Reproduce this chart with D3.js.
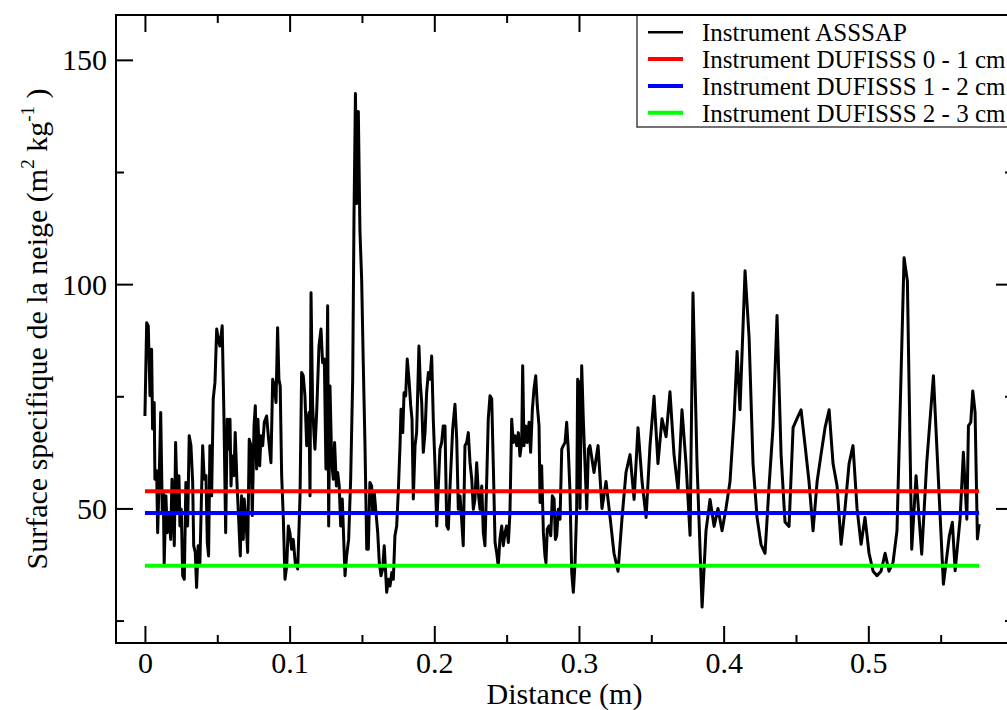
<!DOCTYPE html>
<html>
<head>
<meta charset="utf-8">
<script src="https://cdn.jsdelivr.net/npm/d3@7"></script>
<style>
  body { margin: 0; background: #fff; }
  text { font-family: "Liberation Serif", "Times New Roman", serif; fill: #000; }
</style>
</head>
<body>
<script>
// distance (m) and surface specifique (m2/kg), ASSSAP profile
const distance = [
  0.0000,0.0012,0.0023,0.0035,0.0046,0.0053,0.0064,0.0069,0.0081,0.0088,
  0.0099,0.0109,0.0120,0.0127,0.0133,0.0145,0.0154,0.0166,0.0178,0.0187,
  0.0196,0.0203,0.0212,0.0219,0.0226,0.0235,0.0242,0.0251,0.0261,0.0272,
  0.0283,0.0295,0.0306,0.0318,0.0330,0.0337,0.0348,0.0357,0.0368,0.0380,
  0.0399,0.0410,0.0422,0.0431,0.0440,0.0449,0.0461,0.0472,0.0484,0.0496,
  0.0507,0.0518,0.0534,0.0546,0.0558,0.0569,0.0576,0.0588,0.0595,0.0604,
  0.0615,0.0624,0.0636,0.0648,0.0659,0.0668,0.0680,0.0686,0.0698,0.0710,
  0.0721,0.0733,0.0742,0.0754,0.0763,0.0772,0.0781,0.0793,0.0802,0.0814,
  0.0825,0.0841,0.0855,0.0871,0.0883,0.0894,0.0906,0.0917,0.0926,0.0935,
  0.0945,0.0956,0.0968,0.0980,0.0991,0.1002,0.1014,0.1025,0.1039,0.1056,
  0.1072,0.1083,0.1094,0.1106,0.1118,0.1125,0.1134,0.1141,0.1148,0.1159,
  0.1168,0.1175,0.1187,0.1203,0.1217,0.1228,0.1240,0.1251,0.1263,0.1270,
  0.1279,0.1291,0.1302,0.1311,0.1323,0.1332,0.1343,0.1353,0.1364,0.1383,
  0.1394,0.1408,0.1422,0.1436,0.1445,0.1455,0.1464,0.1475,0.1486,0.1498,
  0.1509,0.1521,0.1533,0.1544,0.1555,0.1567,0.1574,0.1585,0.1597,0.1609,
  0.1620,0.1632,0.1643,0.1654,0.1671,0.1682,0.1694,0.1706,0.1717,0.1728,
  0.1740,0.1751,0.1763,0.1770,0.1782,0.1791,0.1802,0.1813,0.1825,0.1837,
  0.1846,0.1855,0.1867,0.1878,0.1894,0.1903,0.1913,0.1924,0.1936,0.1947,
  0.1959,0.1970,0.1982,0.1993,0.2005,0.2017,0.2028,0.2039,0.2051,0.2062,
  0.2074,0.2086,0.2097,0.2109,0.2127,0.2143,0.2155,0.2166,0.2178,0.2189,
  0.2200,0.2212,0.2224,0.2235,0.2247,0.2259,0.2270,0.2281,0.2293,0.2304,
  0.2316,0.2328,0.2339,0.2350,0.2362,0.2373,0.2385,0.2397,0.2408,0.2420,
  0.2431,0.2442,0.2454,0.2466,0.2477,0.2489,0.2500,0.2512,0.2523,0.2535,
  0.2546,0.2558,0.2570,0.2581,0.2592,0.2604,0.2611,0.2620,0.2632,0.2643,
  0.2655,0.2666,0.2678,0.2689,0.2701,0.2712,0.2724,0.2731,0.2742,0.2754,
  0.2765,0.2772,0.2781,0.2793,0.2805,0.2816,0.2828,0.2837,0.2846,0.2857,
  0.2869,0.2881,0.2892,0.2904,0.2915,0.2926,0.2938,0.2950,0.2961,0.2973,
  0.2984,0.2991,0.3000,0.3007,0.3019,0.3030,0.3042,0.3054,0.3065,
  0.3076,0.3104,0.3132,0.3159,0.3187,0.3215,0.3242,0.3270,0.3298,0.3325,
  0.3353,0.3381,0.3408,0.3436,0.3464,0.3491,0.3519,0.3546,0.3574,0.3602,
  0.3629,0.3657,0.3685,0.3712,0.3740,0.3768,0.3788,0.3816,0.3851,0.3878,
  0.3906,0.3934,0.3961,0.3989,0.4016,0.4044,0.4072,0.4093,0.4113,0.4148,
  0.4176,0.4203,0.4231,0.4258,0.4286,0.4314,0.4341,0.4369,0.4397,0.4424,
  0.4452,0.4480,0.4507,0.4535,0.4563,0.4590,0.4618,0.4646,0.4673,0.4701,
  0.4729,0.4756,0.4784,0.4812,0.4839,0.4867,0.4894,0.4922,0.4950,0.4977,
  0.5005,0.5033,0.5060,0.5088,0.5116,0.5143,0.5171,0.5198,
  0.5219,0.5247,0.5270,0.5300,0.5330,0.5369,0.5404,0.5450,0.5519,0.5560,
  0.5581,0.5600,0.5634,0.5657,0.5681,0.5692,0.5708,0.5722,0.5738,0.5754,0.5766
];
const ssaAsssap = [
  70.6,91.4,90.7,75.1,85.5,67.7,73.6,56.5,58.4,44.6,
  57.3,71.4,49.1,53.6,37.6,52.8,44.6,49.1,43.1,56.5,
  49.1,41.7,64.7,56.5,49.1,57.3,46.1,49.8,35.0,34.2,
  55.8,46.1,66.2,64.0,55.8,41.7,40.2,32.4,41.7,37.9,
  64.0,56.5,57.3,42.4,39.4,64.0,52.8,74.4,78.1,90.0,
  87.7,86.2,90.7,70.6,44.6,69.9,63.2,69.9,55.0,61.7,
  57.3,66.9,55.8,47.6,39.4,52.8,43.1,52.1,47.6,40.2,
  65.4,64.0,48.4,68.4,72.9,58.8,69.9,59.5,66.2,64.0,
  69.2,70.6,65.4,60.2,78.8,77.3,73.6,90.3,78.8,77.3,
  57.3,48.4,34.2,37.2,46.1,44.6,40.9,43.1,37.9,36.5,
  52.8,80.3,79.6,75.1,64.0,69.2,71.4,52.8,98.1,72.9,
  66.9,63.2,71.4,86.2,90.0,82.5,83.3,58.8,95.2,46.1,
  77.3,60.2,56.5,64.7,55.0,58.0,55.0,46.1,52.1,35.0,
  39.4,43.1,56.5,78.8,115,142.5,118,138.5,112,101,
  82.5,64.0,40.9,40.9,55.8,55.0,49.1,53.6,49.1,44.6,
  37.9,35.0,36.5,41.7,31.3,34.2,32.7,35.7,34.2,43.9,
  46.1,53.6,64.0,72.1,66.9,75.8,75.1,83.3,78.8,72.9,
  69.9,52.1,64.0,66.9,86.2,78.1,73.6,62.5,66.9,75.8,
  80.3,78.8,84.0,69.9,59.5,46.1,55.0,63.2,64.7,68.4,
  68.4,46.1,45.4,55.0,67.7,73.2,65.4,49.8,52.8,47.6,
  41.7,64.0,64.7,66.9,60.2,56.5,49.8,52.1,60.2,53.6,
  49.8,55.0,44.6,41.7,55.8,69.9,75.1,74.4,59.5,42.4,
  40.2,37.2,43.2,46.1,41.7,44.6,46.1,42.4,49.1,69.9,
  64.7,66.2,64.0,66.9,61.7,64.7,81.8,64.0,68.4,64.7,
  69.2,62.5,72.1,76.6,79.6,72.9,68.4,51.3,59.5,44.6,
  39.4,37.9,45.4,46.1,43.9,52.8,52.1,43.1,43.9,49.8,
  47.6,63.2,64.0,64.7,69.2,63.2,53.6,35.7,31.3,37.9,
  49.8,78.8,78.1,50.0,81.8,69.9,59.5,49.8,63.2,
  64,58,64,50,56,48,40,36,48,58,
  62,52,68,56,48,64,75,60,70,66,
  76,62,54,72,60,44,98,60,28,45,
  52,46,50,45,50,56,70,85,72,103,
  88,60,48,42,40,55,68,93,62,47,
  46,68,70,72,64,56,45,56,62,68,
  72,60,55,42,50,60,64,50,42,48,
  40,36,35,36,40,36,38,45,
  70.7,105.9,100.7,40.9,57.3,39.8,60.3,79.6,33.1,43.9,
  46.9,36.1,47.6,62.5,47.6,68.4,69.2,76.2,71.4,43.2,46.5
];

// DUFISSS mean values per layer
const dufisssNames = ["Instrument DUFISSS 0 - 1 cm", "Instrument DUFISSS 1 - 2 cm", "Instrument DUFISSS 2 - 3 cm"];
const dufisssValues = [53.85, 49.0, 37.2];
const dufisssColors = ["#ff0000", "#0000ff", "#00ff00"];

const xMajorTicks = [0, 0.1, 0.2, 0.3, 0.4, 0.5];
const xMinorTicks = [0.05, 0.15, 0.25, 0.35, 0.45, 0.55];
const yMajorTicks = [50, 100, 150];
const yMinorTicks = [25, 75, 125];

const width = 1007, height = 710;
const mLeft = 116, mRight = 1013, mTop = 15, mBottom = 643;

const svg = d3.select("body").append("svg")
  .attr("width", width).attr("height", height)
  .style("background", "#fff");

const x = d3.scaleLinear().domain([-0.02, 0.6]).range([mLeft, mRight]);
const y = d3.scaleLinear().domain([20, 160]).range([mBottom, mTop]);

// ticks (inward, on all four sides)
function ticks(axis, pos, values, size, labels) {
  const g = svg.append("g").attr("transform", pos)
    .call(axis.tickValues(values).tickSize(-size).tickSizeOuter(0)
      .tickFormat(labels ? d3.format("") : ""));
  g.select(".domain").remove();
  g.selectAll(".tick line").attr("stroke", "#000").attr("stroke-width", 2);
  return g;
}

const xb = ticks(d3.axisBottom(x), `translate(0,${mBottom})`, xMajorTicks, 17, true);
ticks(d3.axisBottom(x), `translate(0,${mBottom})`, xMinorTicks, 8, false);
ticks(d3.axisTop(x), `translate(0,${mTop})`, xMajorTicks, 17, false);
ticks(d3.axisTop(x), `translate(0,${mTop})`, xMinorTicks, 8, false);
const yl = ticks(d3.axisLeft(y), `translate(${mLeft},0)`, yMajorTicks, 17, true);
ticks(d3.axisLeft(y), `translate(${mLeft},0)`, yMinorTicks, 8, false);
ticks(d3.axisRight(y), `translate(${mRight},0)`, yMajorTicks, 17, false);
ticks(d3.axisRight(y), `translate(${mRight},0)`, yMinorTicks, 8, false);

xb.selectAll(".tick text")
  .attr("y", 30).attr("dy", 0)
  .style("font-size", "30px").style("font-family", "Liberation Serif");
yl.selectAll(".tick text")
  .attr("x", -9).attr("dy", "0.33em")
  .style("font-size", "30px").style("font-family", "Liberation Serif");

// data
const line = d3.line().x(d => x(d[0])).y(d => y(d[1]));
svg.append("path")
  .datum(d3.zip(distance, ssaAsssap))
  .attr("d", line)
  .attr("fill", "none").attr("stroke", "#000").attr("stroke-width", 3)
  .attr("stroke-linejoin", "round");

const x0 = d3.min(distance), x1 = d3.max(distance);
svg.selectAll(".dufisss")
  .data(dufisssValues)
  .enter()
  .append("line")
  .attr("class", "dufisss")
  .attr("x1", x(x0)).attr("x2", x(x1))
  .attr("y1", d => y(d)).attr("y2", d => y(d))
  .attr("stroke", (d, i) => dufisssColors[i]).attr("stroke-width", 4);

// legend
const legendNames = ["Instrument ASSSAP"].concat(dufisssNames);
const legendColors = ["#000"].concat(dufisssColors);
const legend = svg.append("g").attr("transform", "translate(637,15)");
legend.append("rect")
  .attr("x", 0).attr("y", 0).attr("width", 420).attr("height", 112)
  .attr("fill", "#fff").attr("stroke", "#444").attr("stroke-width", 1.5);
legendNames.forEach((name, i) => {
  const yy = 17.3 + i * 26.8;
  legend.append("line")
    .attr("x1", 11).attr("x2", 46).attr("y1", yy).attr("y2", yy)
    .attr("stroke", legendColors[i]).attr("stroke-width", i == 0 ? 2.5 : 4);
  legend.append("text")
    .attr("x", 65).attr("y", yy + 9)
    .style("font-size", "25px")
    .text(name);
});

// frame
svg.append("rect")
  .attr("x", mLeft).attr("y", mTop)
  .attr("width", mRight - mLeft).attr("height", mBottom - mTop)
  .attr("fill", "none").attr("stroke", "#000").attr("stroke-width", 2);

// axis titles
svg.append("text")
  .attr("x", (mLeft + mRight) / 2).attr("y", 704)
  .attr("text-anchor", "middle")
  .style("font-size", "30px")
  .text("Distance (m)");

const ylab = svg.append("text")
  .attr("transform", `translate(47,${(mTop + mBottom) / 2}) rotate(-90)`)
  .attr("text-anchor", "middle")
  .style("font-size", "30px");
ylab.append("tspan").text("Surface specifique de la neige (m");
ylab.append("tspan").attr("dy", -13).style("font-size", "19px").text("2");
ylab.append("tspan").attr("dy", 13).text(" kg");
ylab.append("tspan").attr("dy", -13).style("font-size", "19px").text("-1");
ylab.append("tspan").attr("dy", 13).text(" )");
</script>
</body>
</html>
